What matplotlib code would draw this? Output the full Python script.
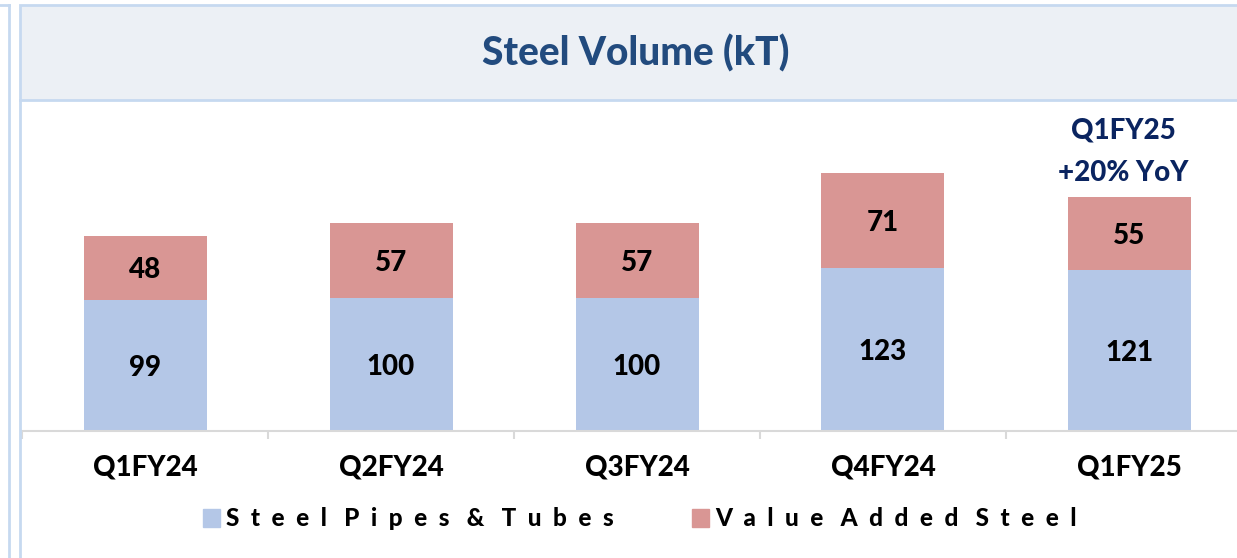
import matplotlib
matplotlib.use("Agg")
import matplotlib.pyplot as plt
from matplotlib.patches import Rectangle, Patch
from matplotlib.lines import Line2D

quarters = ["Q1FY24", "Q2FY24", "Q3FY24", "Q4FY24", "Q1FY25"]
pipes = [99, 100, 100, 123, 121]
value_added = [48, 57, 57, 71, 55]
series_names = ["Steel Pipes & Tubes", "Value Added Steel"]

blue = "#B4C7E7"
red = "#D99694"
border = "#C6D9F0"
heavy = "black"

plt.rcParams["font.family"] = ["Lato", "DejaVu Sans"]

W, H = 1237, 558
fig = plt.figure(figsize=(W / 100, H / 100), dpi=100)

# panel frame + title band
fig.add_artist(Line2D([9 / W, 9 / W], [0, 1 - 5 / H], color=border, lw=2))
fig.add_artist(Line2D([0, 9 / W], [1 - 5 / H, 1 - 5 / H], color=border, lw=2))
fig.add_artist(Rectangle((20 / W, 1 - 100 / H), 1.2, 95 / H, facecolor="#ECF0F5",
                         edgecolor=border, lw=2, transform=fig.transFigure))
fig.add_artist(Line2D([20 / W, 20 / W], [0, 1 - 100 / H], color=border, lw=2))
fig.text(636 / W, 1 - 53 / H, "Steel Volume (kT)", ha="center", va="center",
         fontsize=28, fontweight=heavy, color="#224B7E")

ax = fig.add_axes([22 / W, 1 - 431 / H, 1230 / W, 332 / H])
x = range(len(quarters))
ax.bar(x, pipes, width=0.5, color=blue)
ax.bar(x, value_added, width=0.5, bottom=pipes, color=red)

for i in x:
    ax.text(i, pipes[i] / 2 - 2, str(pipes[i]), ha="center", va="center",
            fontsize=20, fontweight=heavy, color="black")
    ax.text(i, pipes[i] + value_added[i] / 2 - 2, str(value_added[i]), ha="center",
            va="center", fontsize=20, fontweight=heavy, color="black")

last = len(quarters) - 1
top = pipes[last] + value_added[last]
ax.annotate("+20% YoY", (last, top), xytext=(-6, 16), textcoords="offset pixels",
            ha="center", va="baseline", fontsize=20, fontweight=heavy, color="#0A2460")
ax.annotate("Q1FY25", (last, top), xytext=(-6, 59), textcoords="offset pixels",
            ha="center", va="baseline", fontsize=20, fontweight=heavy, color="#0A2460")

ax.set_xlim(-0.5, len(quarters) - 0.5)
ax.set_ylim(0, 250)
ax.set_xticks(list(x))
ax.set_xticklabels(quarters, fontsize=20, fontweight=heavy)
ax.set_xticks([i - 0.5 for i in range(len(quarters) + 1)], minor=True)
ax.tick_params(axis="x", which="major", length=0, pad=17)
ax.tick_params(axis="x", which="minor", length=6, color="#D9D9D9", width=1.5)
ax.set_yticks([])
for s in ["top", "right", "left"]:
    ax.spines[s].set_visible(False)
ax.spines["bottom"].set_color("#D9D9D9")
ax.spines["bottom"].set_linewidth(1.5)
ax.patch.set_alpha(0)

handles = [Patch(color=blue), Patch(color=red)]
labels = ["   ".join("  ".join(w) for w in n.split(" ")) for n in series_names]
fig.legend(handles, labels, loc="center", bbox_to_anchor=(640 / W, 1 - 519 / H),
           ncol=2, frameon=False, handlelength=0.7, handleheight=0.7,
           handletextpad=0.25, columnspacing=3.2,
           prop={"weight": heavy, "size": 17.5})

fig.savefig("out.png", dpi=100)
